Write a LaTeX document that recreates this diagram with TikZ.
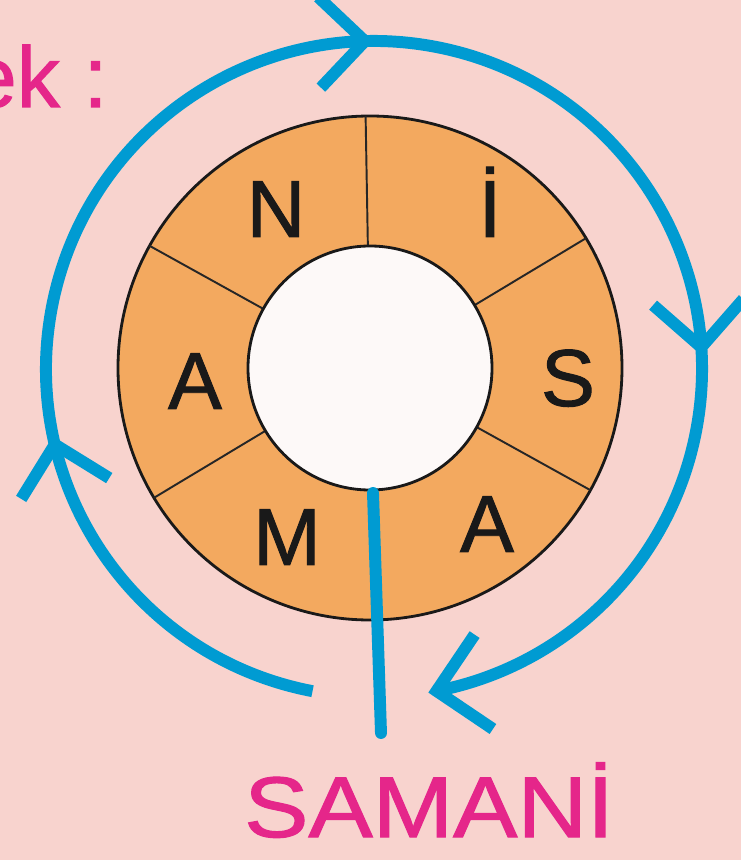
\documentclass[tikz,border=0pt]{standalone}
\usepackage{fontspec}
\setmainfont{Liberation Sans}
\newfontfamily\heavysans[FakeBold=1.2]{Liberation Sans}
\usepackage{tikz}

\begin{document}
\begin{tikzpicture}[x=0.02cm,y=0.02cm,
    ringletter/.style={anchor=base,inner sep=0pt,font=\heavysans\fontsize{46}{46}\selectfont,text=black!90},
    bluearc/.style={draw=col_blue,line width=6.8pt},
    bluearrow/.style={draw=col_blue,line width=6.8pt,line join=miter},
    divider/.style={draw=black!85,line width=1.1pt}]
    \definecolor{col_bg}{HTML}{F8D3CE} % background
    \definecolor{col_ring}{HTML}{F3A95F} % ring of letters
    \definecolor{col_hole}{HTML}{FDF9F8} % middle
    \definecolor{col_blue}{HTML}{009BD2} % arrows
    \definecolor{col_mag}{HTML}{E5268A} % words
    \fill[col_bg] (0,0) rectangle (741,860);
    \useasboundingbox (0,0) rectangle (741,860);
    \clip (0,0) rectangle (741,860);
    \coordinate (R) at (370,492);
    \coordinate (B) at (374,491);
    \fill[col_ring,draw=black!90,line width=1.6pt] (R) circle (252);
    \foreach \a in {31,91,151,211,271,331}
        \draw[divider] (R) ++(\a:122) -- ++(\a:130);
    \fill[col_hole,draw=black!90,line width=1.6pt] (R) circle (122);
    \node[ringletter] (n) at (276,623) {N};
    \node[ringletter] (i) at (490,623) {İ};
    \node[ringletter] (s) at (568,454) {S};
    \node[ringletter] (a1) at (195,451) {A};
    \node[ringletter] (m) at (287,295) {M};
    \node[ringletter] (a2) at (487,308) {A};
    % the arc and its arrows
    \draw[bluearc] (B) ++(259.2:328) arc[start angle=259.2,end angle=-79,radius=328];
    \path (B) ++(91.6:328) coordinate (tipT);
    \path (B) ++(3.8:328) coordinate (tipR);
    \path (B) ++(193.3:328) coordinate (tipL);
    \path (B) ++(-79:328) coordinate (tipE);
    \draw[bluearrow] (tipT) ++(136.6:64) -- (tipT) -- ++(226.6:64);
    \draw[bluearrow] (tipR) ++(48.8:64) -- (tipR) -- ++(138.8:64);
    \draw[bluearrow] (tipL) ++(238.3:64) -- (tipL) -- ++(328.3:64);
    \draw[bluearrow] (tipE) ++(-34:68) -- (tipE) -- ++(56:68);
    % stem down to the word
    \coordinate (stemtop) at (373,367);
    \coordinate (stembot) at (381,127);
    \draw[bluearc,line cap=round] (stemtop) -- (stembot);
    \node[anchor=base,inner sep=0pt,text=col_mag,font=\heavysans\fontsize{49}{49}\selectfont,xscale=1.12] (word) at (429,23) {SAMANİ};
    \node[anchor=base east,inner sep=0pt,text=col_mag,font=\heavysans\fontsize{49}{49}\selectfont] (ek) at (108,753) {ek :};
\end{tikzpicture}
\end{document}
